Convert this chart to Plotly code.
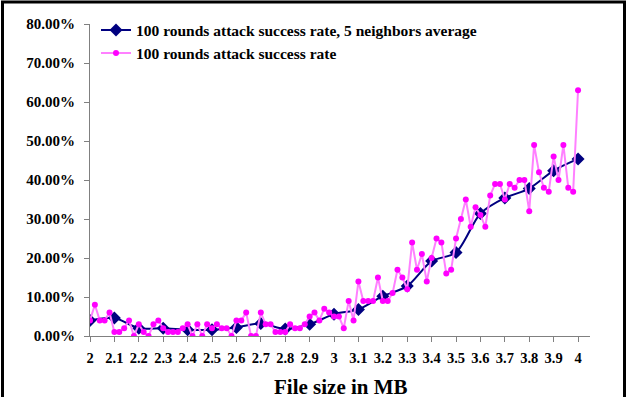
import plotly.graph_objects as go

# File sizes (MB) for each measurement
file_size = [round(2 + 0.02 * i, 2) for i in range(101)]

# 100 rounds attack success rate (%)
success_rate = [
    4, 8, 4, 4, 6, 1, 1, 2, 4, 0,
    3, 1, 0, 3, 4, 2, 1, 1, 1, 2,
    3, 0, 3, 0, 3, 2, 3, 2, 2, 0,
    4, 4, 6, 0, 0, 6, 3, 3, 1, 1,
    1, 3, 2, 2, 3, 5, 6, 4, 7, 6,
    5, 5, 2, 9, 4, 14, 9, 9, 9, 15,
    9, 9, 11, 17, 15, 12, 24, 17, 21, 14,
    20, 25, 24, 16, 17, 25, 30, 35, 28, 33,
    31, 28, 36, 39, 39, 35, 39, 38, 40, 40,
    32, 49, 42, 38, 37, 46, 40, 49, 38, 37,
    63,
]

# 5 neighbors average (%), at every 0.1 MB
avg_size = [round(2 + 0.1 * i, 1) for i in range(21)]
avg_rate = [4.0, 4.6, 2.0, 2.0, 1.6, 1.6, 2.2, 3.2, 1.8, 3.0,
            5.6, 6.8, 10.2, 12.8, 19.2, 21.4, 31.4, 35.4, 37.8, 42.4, 45.4]

FONT = "Liberation Serif"

fig = go.Figure()
fig.add_trace(go.Scatter(
    x=avg_size, y=avg_rate, mode="lines+markers",
    name="100 rounds attack success rate, 5 neighbors average",
    line=dict(color="#000080", width=2, shape="spline", smoothing=0.8),
    marker=dict(symbol="diamond", size=10, color="#000080"),
))
fig.add_trace(go.Scatter(
    x=file_size, y=success_rate, mode="lines+markers",
    name="100 rounds attack success rate",
    line=dict(color="#FF80FF", width=2),
    marker=dict(symbol="circle", size=6, color="#FF00FF"),
))

fig.update_layout(
    width=629, height=397,
    margin=dict(l=90, r=39, t=24, b=61),
    plot_bgcolor="white", paper_bgcolor="white",
    font=dict(family=FONT, size=14, color="black"),
    showlegend=True,
    legend=dict(x=0.012, y=1.034, xanchor="left", yanchor="top",
                bgcolor="rgba(0,0,0,0)", borderwidth=0,
                font=dict(family=FONT, size=15.5, color="black", weight="bold"),
                tracegroupgap=0),
    xaxis=dict(
        range=[2, 4.049], tick0=2, dtick=0.1, automargin=False,
        showgrid=False, zeroline=False,
        showline=True, linecolor="#808080", linewidth=1,
        ticks="outside", ticklen=5, tickcolor="#808080",
        ticklabelstandoff=4,
        tickfont=dict(family=FONT, size=14.5, color="black", weight="bold"),
    ),
    yaxis=dict(
        range=[0, 80], dtick=10, tickformat=".2f", ticksuffix="%",
        automargin=False,
        showgrid=False, zeroline=False,
        showline=True, linecolor="#808080", linewidth=1,
        ticks="outside", ticklen=5, tickcolor="#808080",
        ticklabelstandoff=6,
        tickfont=dict(family=FONT, size=15, color="black", weight="bold"),
    ),
)

# x-axis title
fig.add_annotation(text="File size in MB", xref="paper", yref="paper",
                   x=(341 - 90) / 500, y=(336 - 387) / 312,
                   xanchor="center", yanchor="middle", showarrow=False,
                   font=dict(family=FONT, size=21, color="black", weight="bold"))

# outer frame (extends below the visible area)
fig.add_shape(type="rect", xref="paper", yref="paper",
              x0=(2.5 - 90) / 500, x1=(624.5 - 90) / 500,
              y0=(336 - 420) / 312, y1=(336 - 2) / 312,
              line=dict(color="black", width=3), fillcolor="rgba(0,0,0,0)",
              layer="below")

fig.write_html("out.html")
